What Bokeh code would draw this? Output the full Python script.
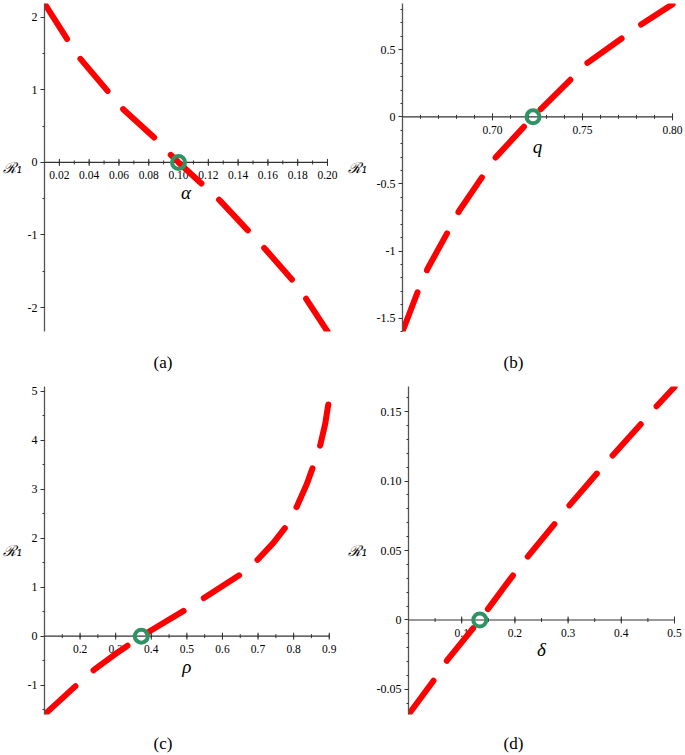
import numpy as np
from bokeh.plotting import figure
from bokeh.models import Range1d, FixedTicker, Label, Div
from bokeh.core.properties import value
from bokeh.layouts import column, row
from bokeh.embed import file_html
from bokeh.resources import INLINE

# ---------------- data ----------------
# (a) R1 versus alpha
a_x = [0.010, 0.027, 0.034, 0.055, 0.063, 0.087, 0.0945, 0.100, 0.118, 0.128, 0.149, 0.158, 0.179, 0.186, 0.200]
a_y = [2.19, 1.64, 1.43, 0.92, 0.73, 0.28, 0.11, 0.00, -0.34, -0.53, -0.99, -1.19, -1.68, -1.89, -2.33]
a_root = [0.100]
a_xticks = [0.02, 0.04, 0.06, 0.08, 0.10, 0.12, 0.14, 0.16, 0.18, 0.20]
a_xlabels = ["0.02", "0.04", "0.06", "0.08", "0.10", "0.12", "0.14", "0.16", "0.18", "0.20"]
a_yticks = [-2, -1, 0, 1, 2]
a_ylabels = ["-2", "-1", "0", "1", "2"]

# (b) R1 versus q
b_x = [0.650, 0.660, 0.664, 0.6765, 0.6815, 0.6958, 0.7019, 0.7225, 0.745, 0.7523, 0.7734, 0.7816, 0.800]
b_y = [-1.60, -1.25, -1.13, -0.825, -0.70, -0.418, -0.30, 0.00, 0.30, 0.398, 0.60, 0.68, 0.84]
b_root = [0.7225]
b_xticks = [0.70, 0.75, 0.80]
b_xlabels = ["0.70", "0.75", "0.80"]
b_yticks = [-1.5, -1.0, -0.5, 0.0, 0.5]
b_ylabels = ["-1.5", "-1", "-0.5", "0", "0.5"]

# (c) R1 versus rho
c_x = [0.100, 0.200, 0.2405, 0.300, 0.372, 0.508, 0.550, 0.659, 0.700, 0.743, 0.785, 0.809, 0.837, 0.860, 0.875, 0.889, 0.900]
c_y = [-1.60, -0.935, -0.68, -0.36, 0.00, 0.59, 0.79, 1.30, 1.57, 1.905, 2.30, 2.65, 3.11, 3.57, 3.91, 4.35, 4.86]
c_root = [0.372]
c_xticks = [0.2, 0.3, 0.4, 0.5, 0.6, 0.7, 0.8, 0.9]
c_xlabels = ["0.2", "0.3", "0.4", "0.5", "0.6", "0.7", "0.8", "0.9"]
c_yticks = [-1, 0, 1, 2, 3, 4, 5]
c_ylabels = ["-1", "0", "1", "2", "3", "4", "5"]

# (d) R1 versus delta
d_x = [0.000, 0.054, 0.072, 0.134, 0.200, 0.2227, 0.278, 0.300, 0.3555, 0.378, 0.4385, 0.461, 0.500]
d_y = [-0.068, -0.040, -0.0293, 0.000, 0.034, 0.045, 0.0707, 0.0814, 0.106, 0.116, 0.1417, 0.1517, 0.1676]
d_root = [0.134]
d_xticks = [0.1, 0.2, 0.3, 0.4, 0.5]
d_xlabels = ["0.1", "0.2", "0.3", "0.4", "0.5"]
d_yticks = [-0.05, 0.0, 0.05, 0.10, 0.15]
d_ylabels = ["-0.05", "0", "0.05", "0.10", "0.15"]

RED = "#ff0000"
GREEN = "#2f9465"
AXIS = "#333333"
SERIF = "Liberation Serif"


def steps(lo, hi, st):
    n = int(round((hi - lo) / st))
    return [round(lo + i * st, 6) for i in range(n + 1)]


def panel(xs, ys, root, xaxis_span, xrange_end, yr, xticks, xlabels, xminor,
          yticks, ylabels, yminor, xname, width, height, frame_w, frame_h, bl, bt, ylab_standoff):
    x0, x1 = xaxis_span
    p = figure(width=width, height=height, output_backend="svg", toolbar_location=None,
               x_range=Range1d(x0, xrange_end), y_range=Range1d(*yr),
               x_axis_location=None, y_axis_location="left",
               min_border_left=bl, min_border_top=bt,
               min_border_right=width - bl - frame_w,
               min_border_bottom=height - bt - frame_h)
    p.frame_width = frame_w
    p.frame_height = frame_h
    p.grid.visible = False
    p.outline_line_color = None
    p.background_fill_color = "white"

    ax = p.yaxis[0]
    ax.ticker = FixedTicker(ticks=yticks, minor_ticks=yminor)
    ax.major_label_overrides = {t: l for t, l in zip(yticks, ylabels)}
    ax.axis_line_color = "#555555"
    ax.axis_line_width = 1.3
    ax.major_tick_line_color = AXIS
    ax.minor_tick_line_color = AXIS
    ax.major_tick_out = 4
    ax.major_tick_in = 0
    ax.minor_tick_out = 2
    ax.minor_tick_in = 0
    ax.major_label_standoff = 3
    ax.major_label_text_font = SERIF
    ax.major_label_text_font_size = "12px"
    ax.major_label_text_color = "black"
    ax.axis_label = "ℛ₁"
    ax.axis_label_orientation = "horizontal"
    ax.axis_label_standoff = ylab_standoff
    ax.axis_label_text_font = "DejaVu Serif"
    ax.axis_label_text_font_style = "italic"
    ax.axis_label_text_font_size = "15px"
    ax.axis_label_text_color = "black"

    # horizontal axis through zero
    p.segment(x0=[x0], y0=[0], x1=[x1], y1=[0], line_color=AXIS, line_width=1.2)
    p.scatter(x=xminor, y=[0] * len(xminor), marker="dash", angle=np.pi / 2, size=4,
              line_color=AXIS, line_width=1)
    p.scatter(x=xticks, y=[0] * len(xticks), marker="dash", angle=np.pi / 2, size=7,
              line_color=AXIS, line_width=1)
    p.text(x=xticks, y=[0] * len(xticks), text=xlabels, y_offset=13,
           text_align="center", text_baseline="middle", text_font=value(SERIF),
           text_font_size="11.5px", text_color="black")

    # curve
    p.line(xs, ys, line_color=RED, line_width=6, line_dash="42 24", line_cap="round")
    # root marker
    p.scatter(x=root, y=[0] * len(root), marker="circle", size=13, fill_color=None,
              line_color=GREEN, line_width=4)

    # horizontal axis name
    p.add_layout(Label(x=(x0 + x1) / 2, y=0, y_offset=-30, text=xname, text_align="center",
                       text_baseline="middle", text_font=SERIF, text_font_style="italic",
                       text_font_size="19px", text_color="black"))
    return p


def caption(text, width, height, shift):
    return Div(text='<span style="position:relative; left:%dpx">%s</span>' % (shift, text),
               width=width, height=height, margin=0,
               styles={"font-family": SERIF, "font-size": "17px", "line-height": "%dpx" % height,
                       "text-align": "center", "color": "black"})


pa = panel(a_x, a_y, a_root, (0.01, 0.20), 0.2074, (-2.33, 2.19), a_xticks, a_xlabels,
           steps(0.01, 0.20, 0.01), a_yticks, a_ylabels, steps(-2.0, 2.0, 0.5),
           "α", 340, 347, 294, 328, 44, 3, 2)
pb = panel(b_x, b_y, b_root, (0.65, 0.80), 0.8061, (-1.60, 0.845), b_xticks, b_xlabels,
           steps(0.65, 0.80, 0.01), b_yticks, b_ylabels, steps(-1.6, 0.8, 0.1),
           "q", 343, 347, 281, 328, 62, 3, 6)
pc = panel(c_x, c_y, c_root, (0.10, 0.90), 0.926, (-1.60, 5.10), c_xticks, c_xlabels,
           steps(0.10, 0.90, 0.05), c_yticks, c_ylabels, steps(-1.5, 5.0, 0.5),
           "ρ", 340, 354, 294, 328, 44, 7, 2)
pd = panel(d_x, d_y, d_root, (0.0, 0.50), 0.5169, (-0.068, 0.168), d_xticks, d_xlabels,
           steps(0.0, 0.50, 0.05), d_yticks, d_ylabels, steps(-0.06, 0.16, 0.01),
           "δ", 343, 354, 275, 328, 68, 7, 6)

layout = column(row(pa, pb),
                row(caption("(a)", 340, 32, -7), caption("(b)", 343, 32, 2)),
                row(pc, pd),
                row(caption("(c)", 340, 21, -7), caption("(d)", 343, 21, 2)))
open("out.html", "w").write(file_html(layout, INLINE))
